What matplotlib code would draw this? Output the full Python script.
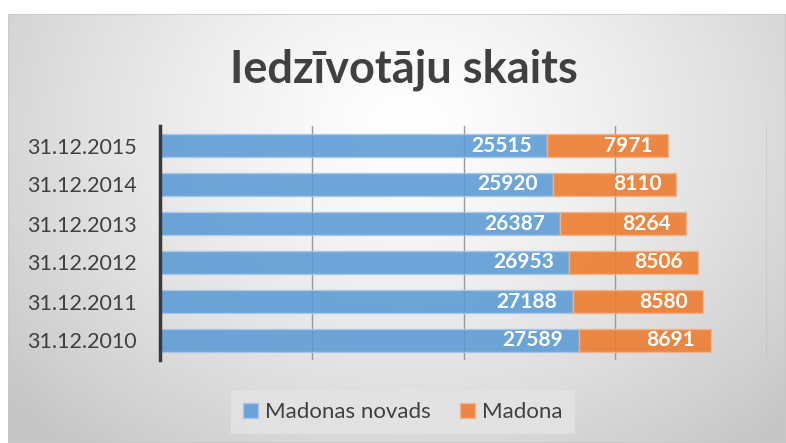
import matplotlib
matplotlib.use("Agg")
import matplotlib.pyplot as plt
import numpy as np
from matplotlib.patches import Rectangle

categories = ["31.12.2010", "31.12.2011", "31.12.2012", "31.12.2013", "31.12.2014", "31.12.2015"]
madonas_novads = [27589, 27188, 26953, 26387, 25920, 25515]
madona = [8691, 8580, 8506, 8264, 8110, 7971]
series_names = ["Madonas novads", "Madona"]
title = "Iedzīvotāju skaits"

W, H = 786, 443
fig = plt.figure(figsize=(W / 100, H / 100), dpi=100)
fig.patch.set_facecolor("white")

# background gradient panel
bg = fig.add_axes([8 / W, 0, 1 - 8 / W, 1 - 14 / H])
bg.set_axis_off()
yy, xx = np.mgrid[0:429, 0:778]
cx, cy = 400, 110
d = np.sqrt(((xx - cx) / 520.0) ** 2 + ((yy - cy) / 420.0) ** 2)
v = 1.0 - 0.22 * np.clip(d, 0, 1) ** 1.3
img = np.dstack([v, v, v])
bg.imshow(img, aspect="auto", extent=[0, 1, 0, 1], origin="upper")
bg.add_patch(Rectangle((0, 0), 1, 1, transform=bg.transAxes, fill=False,
                       edgecolor="#c8c8c8", lw=1.2))

# plot area
left, right = 160 / W, 767 / W
top, bottom = 126 / H, 360 / H
ax = fig.add_axes([left, 1 - bottom, right - left, bottom - top])
ax.patch.set_alpha(0)

y = np.arange(len(categories))
blue = "#5b9bd5"
orange = "#ed7d31"
h = 0.6
ax.set_xlim(0, 40000)
ax.set_ylim(-0.5, len(categories) - 0.5)
for gx in [10000, 20000, 30000, 40000]:
    ax.axvline(gx, color="#9a9a9a", lw=1.0, zorder=1)

b1 = ax.barh(y, madonas_novads, height=h, color=blue, alpha=0.88,
             edgecolor="#a9c8ea", lw=1.0, zorder=2, label=series_names[0])
b2 = ax.barh(y, madona, left=madonas_novads, height=h, color=orange, alpha=0.9,
             edgecolor="#f4b487", lw=1.0, zorder=2, label=series_names[1])

lab_font = dict(family=["Lato", "DejaVu Sans"], fontsize=15, fontweight="bold",
                color="white")
for i in range(len(categories)):
    ax.text(madonas_novads[i] - 1000, y[i], f"{madonas_novads[i]}", ha="right",
            va="center", zorder=3, **lab_font)
    ax.text(madonas_novads[i] + madona[i] - 1000, y[i], f"{madona[i]}", ha="right",
            va="center", zorder=3, **lab_font)

ax.set_yticks(y)
ax.set_yticklabels(categories, family=["Lato", "DejaVu Sans"], fontsize=15.5,
                   color="#404040")
ax.tick_params(axis="y", length=0, pad=17)
ax.set_xticks([])
for s in ["top", "right", "bottom"]:
    ax.spines[s].set_visible(False)
ax.spines["left"].set_color("#3a3a3a")
ax.spines["left"].set_linewidth(2.5)

fig.text(404 / W, 1 - 70 / H, title, ha="center", va="center",
         family=["Lato", "DejaVu Sans"], fontsize=32.5, fontweight="bold",
         color="#404040")

leg = fig.legend(handles=[b1, b2], labels=series_names, loc="center",
                 bbox_to_anchor=(403 / W, 1 - 412 / H), ncol=2, frameon=True,
                 prop=dict(family=["Lato", "DejaVu Sans"], size=16),
                 handlelength=0.65, handleheight=0.65, handletextpad=0.35,
                 columnspacing=1.3, borderpad=0.55, borderaxespad=0,
                 fancybox=False)
leg.get_frame().set_facecolor("#e4e4e4")
leg.get_frame().set_edgecolor("none")
leg.get_frame().set_alpha(0.8)
for t in leg.get_texts():
    t.set_color("#404040")

fig.savefig("out.png", dpi=100)
